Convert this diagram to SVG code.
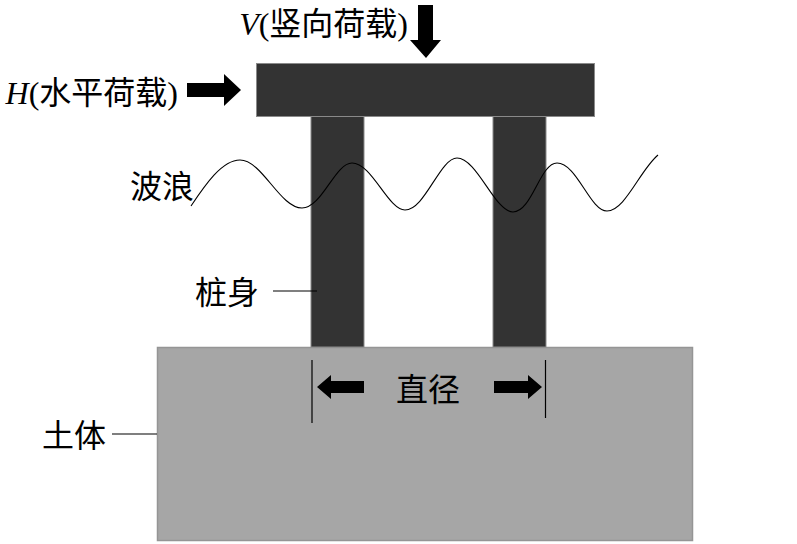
<svg xmlns="http://www.w3.org/2000/svg" width="797" height="544" viewBox="0 0 797 544">
<style>
.lbl{font-family:"Noto Sans CJK SC","Liberation Serif",serif;font-size:32px;fill:#000}
.lat{font-family:"Liberation Serif",serif}
.it{font-style:italic}
.pile{fill:#333333;stroke:#8a8a8a;stroke-width:1}
.lead{stroke:#000;stroke-width:1.2;fill:none}
.arr{fill:#000}
</style>
<rect width="797" height="544" fill="#fff"/>
<g id="soil"><rect x="157.5" y="347.5" width="535" height="193" fill="#a6a6a6" stroke="#959595" stroke-width="1.5"/></g>
<g id="pile-left"><rect class="pile" x="311" y="116" width="53" height="231"/></g>
<g id="pile-right"><rect class="pile" x="493" y="116" width="53" height="231"/></g>
<g id="cap"><rect class="pile" x="256.5" y="63.5" width="338" height="53"/></g>
<g id="wave"><path d="M191,206 C205,185 222,160 240,160 C262,160 280,208 302,208 C322,208 335,163 352,163 C372,163 388,210 405,210 C425,210 440,158 457,158 C477,158 495,212 513,212 C532,212 540,163 557,163 C577,163 590,211 607,211 C625,211 640,170 658,155" fill="none" stroke="#000" stroke-width="1.1"/></g>
<g id="connectors">
<line class="lead" x1="273" y1="291" x2="317" y2="291"/>
<line class="lead" x1="112" y1="434" x2="157" y2="434"/>
<line class="lead" x1="312" y1="360" x2="312" y2="423"/>
<line class="lead" x1="545.5" y1="360" x2="545.5" y2="418"/>
<polygon class="arr" points="418,5 433,5 433,40 441,40 426,58 410,40 418,40"/>
<polygon class="arr" points="187,83 224,83 224,74 241,90 224,106 224,97 187,97"/>
<polygon class="arr" points="364,381 331,381 331,375 317,387 331,399 331,393 364,393"/>
<polygon class="arr" points="494,381 528,381 528,375 542,387 528,399 528,393 494,393"/>
</g>
<g id="label-V"><text class="lbl" x="408" y="35" font-size="32.5" text-anchor="end"><tspan class="lat it">V</tspan><tspan class="lat">(</tspan>竖向荷载<tspan class="lat">)</tspan></text></g>
<g id="label-H"><text class="lbl" x="178" y="104" font-size="33" text-anchor="end"><tspan class="lat it">H</tspan><tspan class="lat">(</tspan>水平荷载<tspan class="lat">)</tspan></text></g>
<g id="label-wave"><text class="lbl" x="130" y="198">波浪</text></g>
<g id="label-pile"><text class="lbl" x="195" y="304">桩身</text></g>
<g id="label-soil"><text class="lbl" x="42" y="447">土体</text></g>
<g id="label-dia"><text class="lbl" x="396" y="401">直径</text></g>
</svg>
